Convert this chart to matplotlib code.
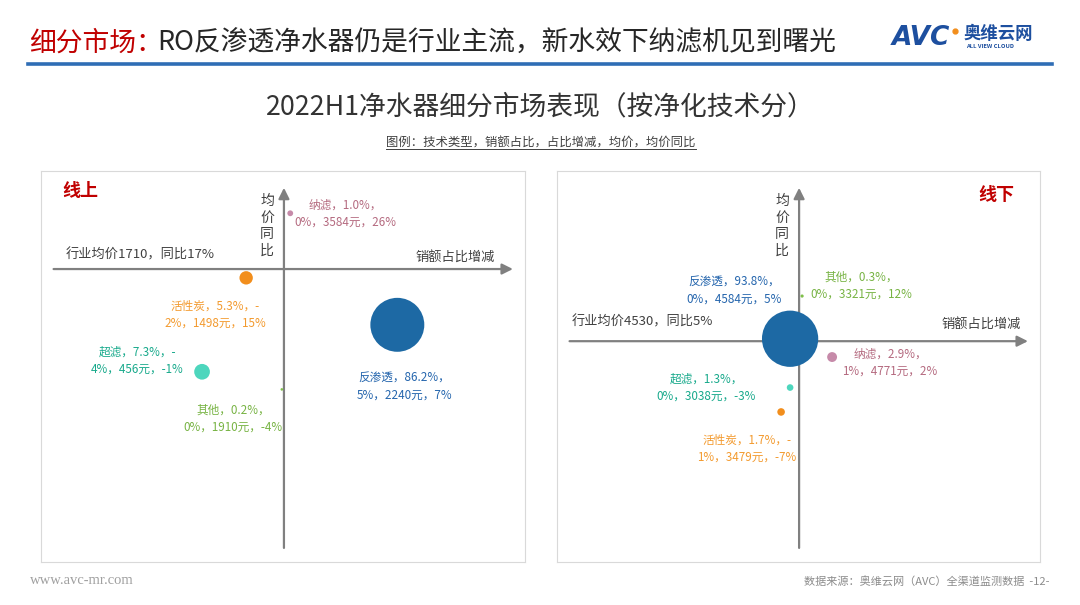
import matplotlib
matplotlib.use("Agg")
import matplotlib.pyplot as plt
from matplotlib.lines import Line2D
from matplotlib.text import Annotation

plt.rcParams['font.family'] = ['Noto Sans CJK SC', 'DejaVu Sans']

# ─── DONNÉES ──────────────────────────────────────────────────────────────────
techs = ['纳滤', '活性炭', '反渗透', '超滤', '其他']

# 线上
share_on = [1.0, 5.3, 86.2, 7.3, 0.2]           # 销额占比 %
share_chg_on = [0.3, -1.8, 5.4, -3.9, -0.1]     # 占比增减 % (estimé)
price_on = [3584, 1498, 2240, 456, 1910]        # 均价 元
yoy_on = [26, 15, 7, -1, -4]                    # 均价同比 %
avg_price_on, avg_yoy_on = 1710, 16.5

# 线下
share_off = [2.9, 1.7, 93.8, 1.3, 0.3]
share_chg_off = [1.1, -0.6, -0.3, -0.3, 0.1]
price_off = [4771, 3479, 4584, 3038, 3321]
yoy_off = [2, -7, 5, -3, 12]
avg_price_off, avg_yoy_off = 4530, 4.6

# ─── STYLE ────────────────────────────────────────────────────────────────────
bubble_colors = {'纳滤': '#c68aa9', '活性炭': '#f28e1c', '反渗透': '#1d69a4',
                 '超滤': '#4dd6bd', '其他': '#7fbf4a'}
text_colors = {'纳滤': '#b4697f', '活性炭': '#f39a2e', '反渗透': '#2465ad',
               '超滤': '#17a98b', '其他': '#77b343'}
AXIS_GRAY = '#808080'
DARK = '#404040'

W, H = 1080, 605


def fx(x):
    return x / W


def fy(y):
    return 1 - y / H


def make_label(t, s, c, p, y):
    chg = f"{int(round(c))}%"
    first = f"{t}，{s:.1f}%，"
    if chg.startswith('-'):
        first += '-'
        chg = chg[1:]
    return f"{first}\n{chg}，{p}元，{y}%"


def draw_panel(ax, share, chg, price, yoy, avg_price, avg_yoy, xlim, ylim,
               offsets, title, title_pos, avg_dy, avg_x, axlab_x):
    ax.set_xlim(*xlim)
    ax.set_ylim(*ylim)
    ax.set_xticks([])
    ax.set_yticks([])
    for sp in ax.spines.values():
        sp.set_color('#d9d9d9')
        sp.set_linewidth(0.8)

    # axes fléchés
    arrow = dict(arrowstyle='-|>', color=AXIS_GRAY, lw=1.6, mutation_scale=16,
                 shrinkA=0, shrinkB=0)
    ax.annotate('', xy=(0.975, avg_yoy), xytext=(0.026, avg_yoy),
                xycoords=ax.get_yaxis_transform(), arrowprops=arrow)
    ax.annotate('', xy=(0, 0.957), xytext=(0, 0.036),
                xycoords=ax.get_xaxis_transform(), arrowprops=arrow)

    sizes = [17.5 * s for s in share]
    ax.scatter(chg, yoy, s=sizes, c=[bubble_colors[t] for t in techs],
               edgecolors='none', zorder=3)

    for i, t in enumerate(techs):
        ax.annotate(make_label(t, share[i], chg[i], price[i], yoy[i]),
                    xy=(chg[i], yoy[i]), xytext=offsets[i],
                    textcoords='offset pixels', ha='center', va='center',
                    fontsize=8.4, color=text_colors[t], linespacing=1.4)

    ax.annotate('均\n价\n同\n比', xy=(0, 0.86), xycoords=ax.get_xaxis_transform(),
                xytext=(-17, 0), textcoords='offset pixels', ha='center',
                va='center', fontsize=10, color=DARK, linespacing=1.25)
    ax.annotate('销额占比增减', xy=(axlab_x, avg_yoy), xycoords=ax.get_yaxis_transform(),
                xytext=(0, avg_dy), textcoords='offset pixels', ha='right',
                va='center', fontsize=9.5, color=DARK)
    ax.annotate(f"行业均价{avg_price}，同比{round(avg_yoy + 0.01):.0f}%",
                xy=(avg_x, avg_yoy), xycoords=ax.get_yaxis_transform(),
                xytext=(0, avg_dy + 2), textcoords='offset pixels', ha='left',
                va='center', fontsize=9.5, color=DARK)
    ax.text(title_pos[0], title_pos[1], title, transform=ax.transAxes,
            ha='center', va='center', fontsize=13, fontweight='bold',
            color='#c00000')


fig = plt.figure(figsize=(W / 100, H / 100), dpi=100)

# ─── EN-TÊTE ──────────────────────────────────────────────────────────────────
t1 = fig.text(fx(29), fy(43), '细分市场：', fontsize=19.3, color='#c00000',
              va='center', ha='left')
head = Annotation('RO反渗透净水器仍是行业主流，新水效下纳滤机见到曙光',
                  xy=(1, 0.5), xycoords=t1, xytext=(-5, 0),
                  textcoords='offset pixels', fontsize=19.3, color='#262626',
                  va='center', ha='left', annotation_clip=False)
fig.add_artist(head)
fig.add_artist(Line2D([fx(28), fx(1052)], [fy(64), fy(64)], color='#2f6db5', lw=2.6))

# logo
fig.text(fx(892), fy(38), 'AVC', fontsize=19, fontweight='bold', color='#1d4f9f',
         va='center', ha='left', family='DejaVu Sans', style='italic')
fig.text(fx(964), fy(34), '奥维云网', fontsize=12.5, fontweight='bold',
         color='#1d4f9f', va='center', ha='left')
fig.text(fx(966), fy(47), 'ALL VIEW CLOUD', fontsize=4.2, color='#1d4f9f',
         va='center', ha='left', fontweight='bold')
fig.add_artist(Line2D([fx(955)], [fy(31)], marker='o', color='#f28e1c', ms=3.5))

# titre
fig.text(0.5, fy(107), '2022H1净水器细分市场表现（按净化技术分）', fontsize=19.3,
         color='#333333', ha='center', va='center')
sub = fig.text(fx(541), fy(143), '图例：技术类型，销额占比，占比增减，均价，均价同比',
               fontsize=8.9, color=DARK, ha='center', va='center')

# ─── PANNEAUX ─────────────────────────────────────────────────────────────────
ax1 = fig.add_axes([fx(41), fy(562), 484 / W, 391 / H])
draw_panel(ax1, share_on, share_chg_on, price_on, yoy_on, avg_price_on, avg_yoy_on,
           xlim=(-11.57, 11.48), ylim=(-33.4, 33.2),
           offsets=[(55, 0), (-31, -37), (7, -62), (-65, 11), (-49, -29)],
           title='线上', title_pos=(0.082, 0.95), avg_dy=12, avg_x=0.05,
           axlab_x=0.938)

ax2 = fig.add_axes([fx(557), fy(562), 483 / W, 391 / H])
draw_panel(ax2, share_off, share_chg_off, price_off, yoy_off, avg_price_off, avg_yoy_off,
           xlim=(-8.07, 8.03), ylim=(-31.6, 32.5),
           offsets=[(58, -6), (-34, -37), (-56, 48), (-84, 0), (59, 10)],
           title='线下', title_pos=(0.91, 0.94), avg_dy=17, avg_x=0.031,
           axlab_x=0.96)

# ─── PIED DE PAGE ─────────────────────────────────────────────────────────────
fig.text(fx(30), fy(581), 'www.avc-mr.com', fontsize=10.5, color='#a0a0a0',
         family='Liberation Serif', va='center', ha='left')
fig.text(fx(1050), fy(582), '数据来源：奥维云网（AVC）全渠道监测数据  -12-',
         fontsize=8, color='#8c8c8c', va='center', ha='right')

# soulignement du sous-titre
fig.canvas.draw()
bb = sub.get_window_extent()
fig.add_artist(Line2D([bb.x0 / W, bb.x1 / W], [(bb.y0 + 1) / H] * 2,
                      color=DARK, lw=0.7))

fig.savefig('out.png', dpi=100)
